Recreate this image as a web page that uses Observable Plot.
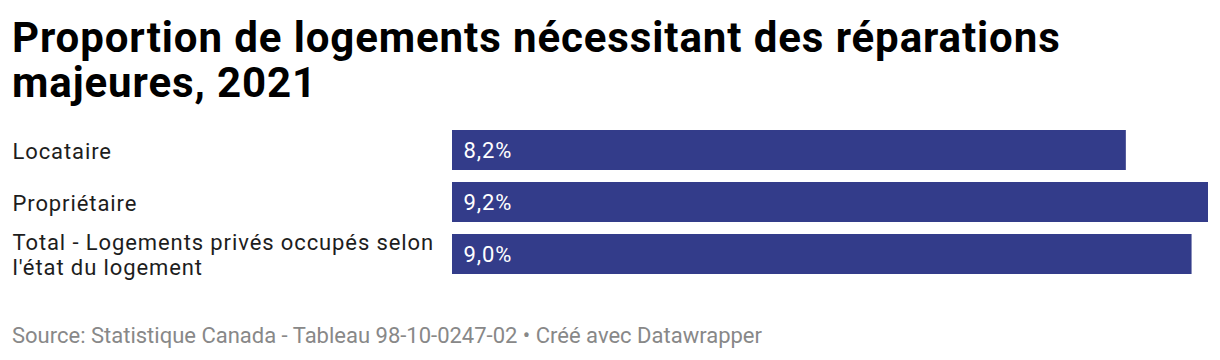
<!DOCTYPE html>
<html>
<head>
<meta charset="utf-8">
<script src="https://cdn.jsdelivr.net/npm/d3@7"></script>
<script src="https://cdn.jsdelivr.net/npm/@observablehq/plot@0.6"></script>
<style>
  body { margin: 0; background: #fff; font-family: Roboto, sans-serif; }
  #title { font-weight: 700; font-size: 42px; letter-spacing: 0.9px; line-height: 45px; color: #000; padding: 15px 0 0 12px; margin: 0; height: 90px; }
  #chart { height: 184px; margin-top: 5px; }
  #footer { font-size: 22px; line-height: 26px; color: #888; padding-left: 12px; margin-top: 29px; }
</style>
</head>
<body>
<div id="title">Proportion de logements nécessitant des réparations<br>majeures, 2021</div>
<div id="chart"></div>
<div id="footer">Source: Statistique Canada - Tableau 98-10-0247-02 • Créé avec Datawrapper</div>
<script>
const categories = ["Locataire", "Propriétaire", "Total - Logements privés occupés selon l'état du logement"];
const tickLabels = ["Locataire", "Propriétaire", "Total - Logements privés occupés selon\nl'état du logement"];
const values = [8.2, 9.2, 9.0];
const valueLabels = ["8,2%", "9,2%", "9,0%"];

const data = categories.map((c, i) => ({category: c, value: values[i], label: valueLabels[i]}));

const chart = Plot.plot({
  width: 1220,
  height: 184,
  marginLeft: 452,
  marginRight: 12,
  marginTop: 20,
  marginBottom: 20,
  style: {fontFamily: "Roboto, sans-serif", background: "#fff", letterSpacing: "0.9px"},
  x: {domain: [0, d3.max(values)], axis: null},
  y: {domain: categories, paddingInner: 0.2308, paddingOuter: 0, label: null},
  marks: [
    Plot.barX(data, {x: "value", y: "category", fill: "#333c8a"}),
    Plot.text(data, {x: 0, y: "category", text: "label", textAnchor: "start", dx: 11, fill: "#fff", fontSize: 22}),
    Plot.axisY({
      tickSize: 0,
      tickPadding: 0,
      textAnchor: "start",
      dx: -440,
      fontSize: 22,
      lineHeight: 1.14,
      fill: "#1d1d1d",
      tickFormat: (d) => tickLabels[categories.indexOf(d)],
      label: null
    })
  ]
});
document.getElementById("chart").appendChild(chart);
</script>
</body>
</html>
